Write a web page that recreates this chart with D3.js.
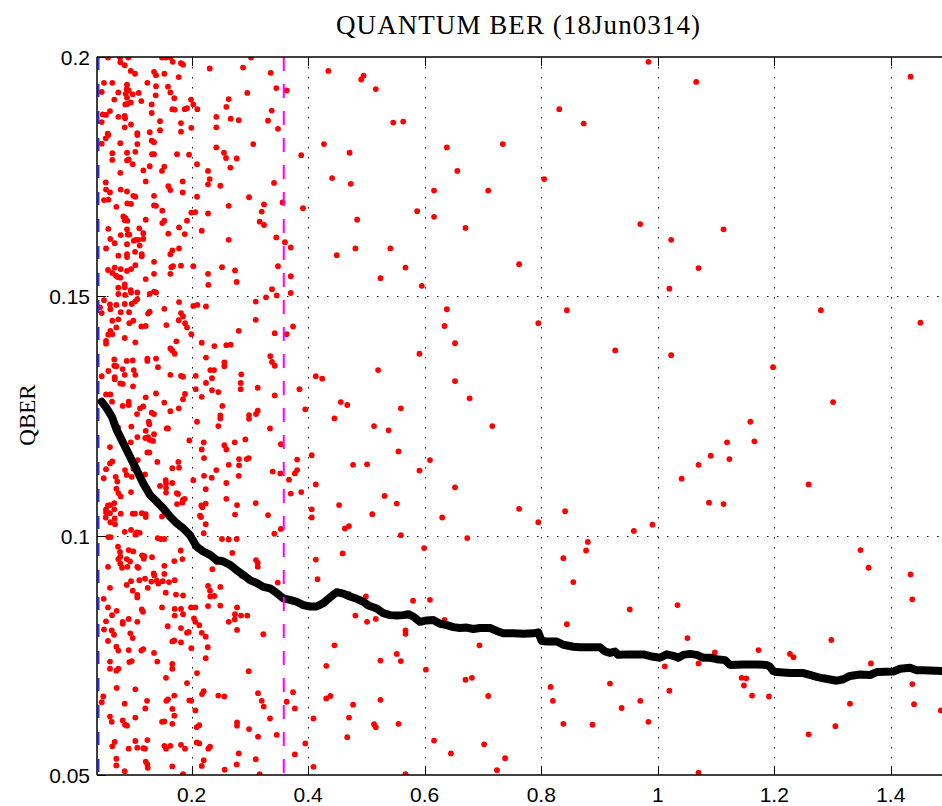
<!DOCTYPE html>
<html>
<head>
<meta charset="utf-8">
<script src="https://d3js.org/d3.v7.min.js"></script>
<style>
  body { margin: 0; background: #fff; }
  .tick-label { font-family: "Liberation Sans", Arial, sans-serif; font-size: 21px; fill: #000; }
</style>
</head>
<body>
<svg id="svg1" width="942" height="806"></svg>
<script>

// single-shot QBER values (x, qber)
var qberPoints = [
[0.4345,0.1971],[0.495,0.1961],[0.491,0.1953],[0.516,0.1933],[0.363,0.1930],[0.831,0.1891],[0.873,0.1861],[0.546,0.1863],[0.563,0.1865],[0.427,0.1818],[0.638,0.1811],[0.734,0.1818],[0.388,0.1795],[0.471,0.1800],[0.656,0.1762],[0.441,0.1747],[0.473,0.1735],[0.805,0.1745],[0.616,0.1721],[0.709,0.1721],[0.356,0.1696],[0.391,0.1684],[0.587,0.1678],[0.616,0.1666],[0.484,0.1660],[0.670,0.1643],[0.360,0.1613],[0.370,0.1602],[0.481,0.1600],[0.541,0.1600],[0.449,0.1586],[0.567,0.1560],[0.762,0.1567],[0.370,0.1542],[0.524,0.1538],[0.595,0.1522],[0.370,0.1507],[0.638,0.1473],[0.844,0.1471],[0.374,0.1437],[0.363,0.1421],[0.634,0.1438],[0.795,0.1444],[0.652,0.1402],[0.591,0.1380],[0.520,0.1346],[0.413,0.1333],[0.424,0.1328],[0.652,0.1323],[0.385,0.1306],[0.677,0.1287],[0.456,0.1279],[0.467,0.1273],[0.395,0.1264],[0.559,0.1266],
[0.984,0.1990],[1.066,0.1948],[1.434,0.1959],[0.970,0.1651],[1.113,0.1640],[1.023,0.1618],[1.070,0.1559],[1.020,0.1516],[1.280,0.1471],[1.451,0.1445],[0.927,0.1387],[1.023,0.1377],[1.198,0.1352],[1.301,0.1279],
[0.445,0.1245],[0.513,0.1229],[0.538,0.1220],[0.716,0.1229],[0.353,0.1191],[0.406,0.1168],[0.381,0.1159],[0.555,0.1176],[0.477,0.1148],[0.501,0.1149],[0.609,0.1158],[0.381,0.1137],[0.377,0.1130],[0.367,0.1117],[0.591,0.1136],[0.413,0.1107],[0.652,0.1101],[0.370,0.1088],[0.388,0.1091],[0.531,0.1083],[0.453,0.1064],[0.552,0.1067],[0.406,0.1055],[0.406,0.1038],[0.510,0.1045],[0.630,0.1038],[0.762,0.1056],[0.841,0.1051],[0.795,0.1028],[0.353,0.1014],[0.463,0.1015],[0.470,0.1020],[0.559,0.1001],[0.673,0.0995],[0.880,0.0987],[0.877,0.0969],[0.599,0.0974],[0.838,0.0953],[0.459,0.0963],[0.413,0.0950],[0.416,0.0909],[0.855,0.0903],[0.499,0.0873],[0.580,0.0864],[0.609,0.0866],[0.470,0.0878],[0.481,0.0833],[0.501,0.0820],[0.516,0.0826],[0.634,0.0824],[0.567,0.0802],[0.567,0.0795],[0.844,0.0815],[0.445,0.0771],[0.694,0.0771],[0.552,0.0753],[0.559,0.0738],[0.524,0.0739],[0.431,0.0728],[0.602,0.0720],[0.670,0.0699],[0.681,0.0703],[0.816,0.0684],[0.374,0.0673],[0.363,0.0653],[0.431,0.0660],[0.438,0.0665],[0.524,0.0657],[0.709,0.0665],[0.820,0.0655],[0.377,0.0639],[0.477,0.0647],[0.409,0.0618],[0.470,0.0620],[0.513,0.0606],[0.516,0.0600],[0.555,0.0607],[0.838,0.0607],[0.888,0.0605],[0.467,0.0579],[0.395,0.0566],[0.616,0.0572],[0.702,0.0564],[0.377,0.0543],[0.645,0.0545],[0.738,0.0535],[0.409,0.0517],[0.724,0.0510],[0.567,0.0502],[0.918,0.0691],
[1.159,0.1238],[1.119,0.1195],[1.166,0.1197],[1.091,0.1167],[1.123,0.1160],[1.070,0.1148],[1.041,0.1119],[1.259,0.1107],[1.088,0.1069],[1.113,0.1066],[0.991,0.1023],[0.959,0.1010],[1.348,0.0970],[1.362,0.0933],[1.434,0.0919],[1.437,0.0867],[0.952,0.0846],[1.034,0.0855],[1.051,0.0786],[1.298,0.0782],[1.173,0.0761],[1.098,0.0756],[1.227,0.0753],[1.233,0.0746],[1.012,0.0727],[1.070,0.0733],[1.366,0.0733],[1.144,0.0703],[1.152,0.0702],[1.148,0.0687],[1.020,0.0676],[1.437,0.0690],[1.162,0.0666],[1.191,0.0664],[0.970,0.0655],[0.938,0.0640],[1.330,0.0649],[1.440,0.0648],[1.486,0.0635],[0.984,0.0611],[1.305,0.0602],[1.259,0.0585],[1.070,0.0505],
[0.0563,0.1999],[0.0769,0.1999],[0.0912,0.1999],[0.149,0.1999],[0.1559,0.1999],[0.1633,0.1999],[0.3018,0.1999],[0.0774,0.1989],[0.085,0.1983],[0.1674,0.1990],[0.1816,0.1987],[0.1851,0.1984],[0.2309,0.1976],[0.2881,0.1978],[0.0953,0.1971],[0.1027,0.1965],[0.1353,0.1969],[0.1387,0.1962],[0.153,0.1965],[0.1777,0.1958],[0.3356,0.1967],[0.0494,0.1946],[0.0637,0.1946],[0.0889,0.1942],[0.1238,0.1946],[0.1387,0.1939],[0.1593,0.1938],[0.0455,0.1927],[0.074,0.1926],[0.0884,0.1933],[0.0918,0.1930],[0.0867,0.1923],[0.0987,0.1922],[0.109,0.1925],[0.1382,0.1920],[0.1633,0.1926],[0.3452,0.1935],[0.2954,0.1925],[0.0671,0.1911],[0.0889,0.1915],[0.1135,0.1908],[0.1701,0.1914],[0.1988,0.1911],[0.2635,0.1912],[0.086,0.1901],[0.0894,0.1902],[0.0953,0.1905],[0.1313,0.1901],[0.2027,0.1901],[0.2594,0.1896],[0.3373,0.1888],[0.1667,0.1891],[0.1708,0.1890],[0.188,0.1891],[0.1919,0.1893],[0.2096,0.1891],[0.0472,0.1880],[0.0529,0.1879],[0.0597,0.1887],[0.0455,0.1864],[0.074,0.1875],[0.085,0.1877],[0.0855,0.1872],[0.1313,0.1883],[0.1456,0.1866],[0.2422,0.1875],[0.2669,0.1871],[0.2807,0.1868],[0.331,0.1867],[0.0958,0.1859],[0.085,0.1853],[0.1816,0.1862],[0.1993,0.1852],[0.2422,0.1853],[0.1456,0.1847],[0.1816,0.1844],[0.3481,0.1850],[0.0558,0.1840],[0.0568,0.1837],[0.0524,0.1830],[0.1066,0.1841],[0.1066,0.1837],[0.1279,0.1843],[0.1313,0.1825],[0.1353,0.1822],[0.0455,0.1819],[0.0774,0.1820],[0.1066,0.1818],[0.3057,0.1818],[0.0637,0.1799],[0.0889,0.1800],[0.1032,0.1802],[0.1318,0.1797],[0.1353,0.1797],[0.1748,0.1797],[0.1954,0.1796],[0.2422,0.1811],[0.2554,0.1800],[0.2589,0.1789],[0.2772,0.1788],[0.0637,0.1785],[0.0889,0.1784],[0.0918,0.1786],[0.0987,0.1776],[0.1279,0.1772],[0.153,0.1771],[0.149,0.1762],[0.2091,0.1776],[0.2663,0.1769],[0.0774,0.1758],[0.1169,0.1763],[0.228,0.1762],[0.2309,0.1745],[0.228,0.1734],[0.2491,0.1731],[0.3413,0.1737],[0.121,0.1740],[0.1845,0.1740],[0.0524,0.1738],[0.0529,0.1723],[0.0597,0.1717],[0.0781,0.1723],[0.0889,0.1719],[0.1598,0.1730],[0.1633,0.1722],[0.1845,0.1717],[0.0997,0.1710],[0.1032,0.1708],[0.0494,0.1701],[0.0568,0.1702],[0.0706,0.1687],[0.0894,0.1694],[0.0958,0.1693],[0.1353,0.1710],[0.1353,0.1690],[0.1387,0.1689],[0.2091,0.1708],[0.2984,0.1707],[0.2635,0.1689],[0.3241,0.1692],[0.0826,0.1667],[0.086,0.1664],[0.0894,0.1658],[0.085,0.1659],[0.121,0.1660],[0.1495,0.1679],[0.153,0.1658],[0.1495,0.1653],[0.1993,0.1675],[0.2062,0.1676],[0.228,0.1673],[0.3202,0.1677],[0.3167,0.1656],[0.3241,0.1649],[0.1919,0.1658],[0.0568,0.1641],[0.0889,0.1640],[0.110,0.1642],[0.0781,0.1628],[0.0901,0.1629],[0.0929,0.1629],[0.1169,0.1632],[0.1598,0.1631],[0.1782,0.1644],[0.188,0.1630],[0.2172,0.1637],[0.0603,0.1620],[0.0678,0.1611],[0.0889,0.1609],[0.1004,0.1616],[0.1039,0.1618],[0.1083,0.1618],[0.1169,0.1620],[0.1107,0.1606],[0.0529,0.1600],[0.074,0.1585],[0.0889,0.1588],[0.0889,0.1582],[0.1027,0.1593],[0.1142,0.1588],[0.1142,0.1584],[0.1353,0.1572],[0.1633,0.1588],[0.1667,0.1596],[0.1782,0.1600],[0.2635,0.1618],[0.3452,0.1623],[0.0563,0.1555],[0.0637,0.1549],[0.0678,0.1560],[0.070,0.1543],[0.0781,0.1557],[0.074,0.1540],[0.0774,0.1539],[0.0889,0.1553],[0.0958,0.1557],[0.1032,0.1565],[0.121,0.1536],[0.1353,0.1547],[0.1633,0.1547],[0.165,0.1561],[0.1679,0.1563],[0.1816,0.1564],[0.2027,0.1563],[0.228,0.1547],[0.2285,0.1524],[0.252,0.1561],[0.2772,0.1530],[0.2743,0.1554],[0.3481,0.1563],[0.074,0.1518],[0.085,0.1525],[0.085,0.1519],[0.0953,0.1513],[0.0958,0.1508],[0.1066,0.1508],[0.1279,0.1505],[0.1353,0.1510],[0.1387,0.1508],[0.074,0.1505],[0.0855,0.1503],[0.3378,0.1515],[0.3459,0.1502],[0.3275,0.1498],
[0.0494,0.1492],[0.0597,0.1483],[0.0706,0.1482],[0.085,0.1484],[0.097,0.1484],[0.1027,0.1489],[0.1066,0.1494],[0.0426,0.1477],[0.0603,0.1473],[0.1782,0.1488],[0.2027,0.1480],[0.2096,0.1482],[0.2245,0.1479],[0.3099,0.1489],[0.0455,0.1465],[0.0781,0.1467],[0.0924,0.1467],[0.125,0.1464],[0.1279,0.1468],[0.153,0.1474],[0.1816,0.1465],[0.1851,0.1458],[0.0637,0.1449],[0.074,0.1452],[0.0929,0.1444],[0.0997,0.1449],[0.1135,0.1437],[0.121,0.1438],[0.1564,0.1440],[0.1777,0.1450],[0.1885,0.1444],[0.1919,0.1435],[0.1993,0.1421],[0.3099,0.1451],[0.0603,0.1428],[0.0637,0.1421],[0.0568,0.1420],[0.0706,0.1435],[0.0529,0.1407],[0.0529,0.1401],[0.085,0.1413],[0.1032,0.1404],[0.1736,0.1406],[0.1633,0.1391],[0.1667,0.1387],[0.1708,0.1380],[0.2172,0.1403],[0.2388,0.1396],[0.2594,0.1398],[0.2669,0.1399],[0.2807,0.1428],[0.3425,0.1423],
[0.0455,0.1333],[0.0568,0.1344],[0.0671,0.1368],[0.0671,0.1355],[0.0706,0.1354],[0.0815,0.1348],[0.0884,0.1365],[0.0987,0.1366],[0.1004,0.1346],[0.085,0.1336],[0.0678,0.1331],[0.0678,0.1327],[0.1032,0.1336],[0.1238,0.1370],[0.1238,0.1365],[0.1387,0.1370],[0.1421,0.1352],[0.1633,0.1336],[0.1816,0.1334],[0.1851,0.1332],[0.2069,0.1334],[0.2245,0.1372],[0.2319,0.1346],[0.2383,0.1346],[0.2348,0.1329],[0.256,0.1362],[0.256,0.1354],[0.2851,0.1337],[0.3349,0.1375],[0.3378,0.1363],[0.3425,0.1355],[0.0774,0.1318],[0.0815,0.1317],[0.0992,0.1312],[0.0529,0.1295],[0.0603,0.1295],[0.0632,0.1280],[0.0918,0.1280],[0.0918,0.1273],[0.0815,0.1271],[0.121,0.1289],[0.1387,0.1297],[0.153,0.1278],[0.1885,0.1296],[0.1851,0.1285],[0.2069,0.1306],[0.2245,0.1319],[0.2348,0.1304],[0.2172,0.1290],[0.2457,0.1300],[0.2525,0.1271],[0.2841,0.1319],[0.2841,0.1306],[0.3133,0.1309],[0.3425,0.1293],[0.1112,0.1266],[0.1169,0.1270],[0.1061,0.1254],[0.1313,0.1257],[0.1353,0.1254],[0.1633,0.1260],[0.1777,0.1266],[0.2491,0.1251],[0.2984,0.1252],[0.3104,0.1254],[0.3133,0.1261],
[0.0735,0.1226],[0.0963,0.1228],[0.1262,0.1238],[0.1272,0.1233],[0.121,0.1219],[0.1353,0.1212],[0.1571,0.1224],[0.1593,0.1224],[0.2091,0.1238],[0.2491,0.1245],[0.2984,0.1244],[0.2457,0.1229],[0.3344,0.1224],[0.0597,0.1185],[0.0953,0.1195],[0.1066,0.1206],[0.1203,0.1204],[0.125,0.1206],[0.1279,0.1200],[0.1336,0.1198],[0.1959,0.1199],[0.2172,0.1180],[0.2206,0.1195],[0.256,0.1189],[0.2594,0.1180],[0.2738,0.1195],[0.292,0.1201],[0.1238,0.1174],[0.1272,0.1174],[0.1409,0.1154],[0.1667,0.1141],[0.1782,0.1142],[0.177,0.1154],[0.2211,0.1162],[0.2635,0.1148],[0.2812,0.1160],[0.2812,0.1147],[0.2944,0.1160],[0.2978,0.1162],[0.0597,0.1151],[0.0637,0.1155],[0.0529,0.1139],[0.0489,0.1120],[0.0855,0.1137],[0.0884,0.1127],[0.0997,0.1140],[0.097,0.1123],[0.1198,0.1128],[0.1073,0.1158],[0.0695,0.1123],[0.0723,0.1113],[0.0706,0.1098],[0.074,0.1089],[0.0781,0.1082],[0.0958,0.1091],[0.1456,0.1104],[0.1554,0.1116],[0.1559,0.1109],[0.1559,0.1100],[0.1667,0.1110],[0.1559,0.1090],[0.1742,0.1089],[0.1765,0.1087],[0.1851,0.1075],[0.188,0.1077],[0.2027,0.1116],[0.2211,0.1125],[0.2343,0.1121],[0.2422,0.1137],[0.2594,0.1110],[0.224,0.1097],[0.2807,0.1125],[0.339,0.1134],[0.3521,0.1130],[0.0563,0.1063],[0.0529,0.1055],[0.0603,0.1064],[0.0671,0.1068],[0.0529,0.1049],[0.0597,0.1047],[0.0671,0.1055],[0.0524,0.1038],[0.0603,0.1028],[0.0678,0.1036],[0.0683,0.1024],[0.0781,0.1046],[0.0987,0.1046],[0.1027,0.1046],[0.1142,0.1047],[0.121,0.1045],[0.121,0.1039],[0.149,0.1040],[0.1748,0.1066],[0.1839,0.1069],[0.2165,0.1063],[0.2182,0.1059],[0.224,0.1067],[0.2142,0.1042],[0.2159,0.1039],[0.224,0.1024],[0.2594,0.1077],[0.2778,0.1064],[0.2743,0.1044],[0.3099,0.1068],[0.331,0.1043],[0.3418,0.1004],[0.085,0.1008],[0.0958,0.1012],[0.1032,0.1002],[0.1056,0.1007],[0.1107,0.1006],[0.1416,0.0995],[0.1468,0.0993],[0.153,0.0993],[0.2206,0.1005],[0.252,0.0993],[0.2635,0.0992],[0.2772,0.0993],[0.0609,0.0997],[0.0568,0.0997],
[0.0735,0.0977],[0.0769,0.0966],[0.0774,0.0956],[0.074,0.0951],[0.0884,0.0951],[0.0941,0.0946],[0.0918,0.0970],[0.0997,0.0967],[0.1147,0.0959],[0.1176,0.0952],[0.1186,0.0957],[0.1318,0.0955],[0.1811,0.0969],[0.1839,0.0951],[0.1701,0.0947],[0.153,0.0937],[0.153,0.0920],[0.0774,0.0942],[0.0803,0.0933],[0.0894,0.0935],[0.1066,0.0935],[0.1083,0.0933],[0.0563,0.0935],[0.0597,0.0891],[0.0884,0.0897],[0.0987,0.0885],[0.0958,0.0905],[0.110,0.0907],[0.1066,0.0876],[0.1066,0.0871],[0.1198,0.0910],[0.1245,0.0891],[0.1348,0.0921],[0.1358,0.0917],[0.1306,0.0904],[0.1399,0.0906],[0.1427,0.0900],[0.1502,0.0905],[0.1554,0.0881],[0.161,0.0903],[0.1708,0.0907],[0.1851,0.0875],[0.173,0.0877],[0.2354,0.0930],[0.2429,0.0945],[0.2697,0.0964],[0.2858,0.0916],[0.3104,0.0949],[0.3133,0.0943],[0.3133,0.0935],[0.3476,0.0902],[0.228,0.0895],[0.2314,0.0885],[0.2319,0.0873],[0.2388,0.0874],[0.2491,0.0893],[0.228,0.0853],[0.2491,0.0854],[0.0489,0.0868],[0.0563,0.0850],[0.0712,0.0843],[0.0632,0.0834],[0.0529,0.0821],[0.0494,0.0804],[0.0627,0.0802],[0.0666,0.0793],[0.0563,0.0780],[0.0815,0.0820],[0.0815,0.0816],[0.0918,0.0826],[0.1066,0.0820],[0.0946,0.0796],[0.0987,0.0786],[0.1164,0.0841],[0.1142,0.0846],[0.149,0.0850],[0.1708,0.0847],[0.1708,0.0833],[0.1816,0.0847],[0.1851,0.0836],[0.1588,0.0811],[0.1667,0.0779],[0.1701,0.0781],[0.1816,0.0807],[0.1816,0.0777],[0.1919,0.0797],[0.1948,0.0799],[0.1988,0.0850],[0.2062,0.0850],[0.1993,0.0765],[0.2039,0.0827],[0.2062,0.0820],[0.213,0.0813],[0.2172,0.0797],[0.224,0.0789],[0.2275,0.0767],[0.2778,0.0850],[0.2743,0.0836],[0.2635,0.0820],[0.2738,0.0825],[0.2846,0.0833],[0.2954,0.0833],[0.2778,0.0803],[0.3229,0.0794],[0.224,0.0744],[0.0706,0.0768],[0.074,0.0760],[0.0918,0.0761],[0.1135,0.0760],[0.1169,0.0763],[0.1353,0.0755],[0.0929,0.0736],[0.097,0.0738],[0.1409,0.0737],[0.0597,0.0737],[0.0597,0.0722],[0.0706,0.0718],[0.074,0.0722],[0.1667,0.0732],[0.1667,0.0722],[0.1559,0.0703],[0.1919,0.0692],[0.2091,0.0713],[0.2978,0.0717],[0.0712,0.0682],[0.1032,0.0679],[0.0482,0.0664],[0.0455,0.0652],[0.085,0.0649],[0.1233,0.0655],[0.1203,0.0639],[0.1564,0.0655],[0.1593,0.0658],[0.1701,0.0666],[0.1667,0.0638],[0.1701,0.0624],[0.149,0.0611],[0.153,0.0612],[0.1667,0.0607],[0.1959,0.0656],[0.1993,0.0655],[0.2062,0.0635],[0.2206,0.0675],[0.2177,0.0669],[0.2457,0.0666],[0.256,0.0664],[0.3138,0.0671],[0.3202,0.0655],[0.3236,0.0643],[0.3344,0.0618],[0.0597,0.0622],[0.0627,0.0611],[0.0815,0.0614],[0.0855,0.0605],[0.0889,0.0603],[0.1032,0.0620],[0.2086,0.0600],[0.213,0.0604],[0.2778,0.0610],[0.2778,0.0603],[0.2984,0.0596],[0.3138,0.0580],[0.3459,0.0584],[0.0678,0.0569],[0.0637,0.0560],[0.0918,0.0555],[0.1032,0.0571],[0.1066,0.0557],[0.1169,0.0556],[0.1198,0.0555],[0.1238,0.0573],[0.153,0.0561],[0.1559,0.0555],[0.1633,0.0561],[0.1816,0.0563],[0.1885,0.0555],[0.2086,0.0568],[0.213,0.0566],[0.2285,0.0555],[0.2314,0.0559],[0.2206,0.0531],[0.2172,0.0519],[0.2566,0.0511],[0.2772,0.0522],[0.2807,0.0545],[0.3099,0.0533],[0.3167,0.0502],[0.0706,0.0534],[0.0706,0.0520],[0.085,0.0508],[0.121,0.0528],[0.1238,0.0522],[0.1245,0.0515],[0.1667,0.0518],[0.1851,0.0502]
];

// running average (thick black curve)
var avgX = [0.0455,0.0541,0.0627,0.0712,0.0826,0.0941,0.1056,0.1169,0.1284,0.1399,
  0.1512,0.1627,0.1742,0.1856,0.1971,0.2086,0.2199,0.2314,0.2429,0.2542,
  0.2657,0.2772,0.2886,0.3001,0.3116,0.3229,0.3344,0.3459,0.3572,0.3687,
  0.3802,0.3916,0.4031,0.4146,0.4259,0.4374,0.4489,0.4602,0.4717,0.4833,
  0.4946,0.5032,0.5176,0.5289,0.5404,0.5519,0.5632,0.5718,0.5804,0.5919,
  0.6034,0.6147,0.6263,0.6378,0.6491,0.6606,0.6721,0.6834,0.6949,0.7121,
  0.7236,0.7349,0.7521,0.7693,0.7864,0.795,0.8008,0.8094,0.8266,0.8379,
  0.8551,0.8666,0.8837,0.9009,0.9095,0.9181,0.9267,0.9323,0.9524,0.9753,
  0.9924,1.0039,1.0154,1.0267,1.0353,1.0439,1.0554,1.0669,1.0783,1.0898,
  1.1013,1.1155,1.1241,1.1469,1.1699,1.1871,1.1928,1.1984,1.2043,1.2271,
  1.2499,1.2614,1.2729,1.2843,1.3073,1.3186,1.3301,1.3473,1.3644,1.3759,
  1.4044,1.4159,1.4331,1.4446,1.4559,1.488];
var avgY = [0.1280,0.1266,0.1249,0.1221,0.1193,0.1165,0.1137,0.1109,0.1085,0.1071,
  0.1057,0.1040,0.1026,0.1015,0.1001,0.0977,0.0967,0.0960,0.0949,0.0946,
  0.0939,0.0928,0.0918,0.0907,0.0901,0.0893,0.0890,0.0880,0.0869,0.0866,
  0.0862,0.0855,0.0852,0.0852,0.0859,0.0871,0.0882,0.0879,0.0873,0.0868,
  0.0862,0.0854,0.0848,0.0838,0.0834,0.0833,0.0834,0.0836,0.0831,0.0820,
  0.0823,0.0824,0.0816,0.0813,0.0809,0.0807,0.0808,0.0805,0.0807,0.0807,
  0.0801,0.0796,0.0796,0.0795,0.0796,0.0798,0.0780,0.0779,0.0779,0.0772,
  0.0768,0.0767,0.0767,0.0767,0.0758,0.0755,0.0758,0.0751,0.0752,0.0752,
  0.0747,0.0745,0.0752,0.0749,0.0745,0.0751,0.0753,0.0751,0.0745,0.0745,
  0.0742,0.0740,0.0730,0.0731,0.0731,0.0730,0.0726,0.0717,0.0715,0.0713,
  0.0713,0.0709,0.0705,0.0702,0.0697,0.0700,0.0707,0.0710,0.0709,0.0715,
  0.0716,0.0722,0.0724,0.0719,0.0719,0.0717];

var xTicks = [0.2, 0.4, 0.6, 0.8, 1, 1.2, 1.4];
var xTickLabels = ["0.2", "0.4", "0.6", "0.8", "1", "1.2", "1.4"];
var yTicks = [0.05, 0.1, 0.15, 0.2];
var yTickLabels = ["0.05", "0.1", "0.15", "0.2"];
var blueMarker = 0.04;      // start marker
var magentaMarker = 0.358;  // cut marker
var titleText = "QUANTUM BER (18Jun0314)";
var yLabelText = "QBER";

var svg = d3.select("#svg1");
    width = +svg.attr("width");
    height = +svg.attr("height");
var plot = {left: 97, top: 57, right: 942, bottom: 775};

var x = d3.scaleLinear()
    .domain([0.0374, 1.488])
    .range([plot.left, plot.right]);

var y = d3.scaleLinear()
    .domain([0.05, 0.2])
    .range([plot.bottom, plot.top]);

svg.append("defs").append("clipPath")
    .attr("id", "plotclip")
  .append("rect")
    .attr("x", plot.left)
    .attr("y", plot.top)
    .attr("width", plot.right - plot.left)
    .attr("height", plot.bottom - plot.top);

// dotted grid
var grid = svg.append("g").attr("class", "grid");
grid.selectAll("line.gx")
  .data(xTicks)
  .enter().append("line")
    .attr("class", "gx")
    .attr("x1", function(d) { return Math.round(x(d)) + 0.5; })
    .attr("x2", function(d) { return Math.round(x(d)) + 0.5; })
    .attr("y1", plot.top)
    .attr("y2", plot.bottom)
    .attr("stroke", "#000")
    .attr("stroke-width", 1)
    .attr("stroke-dasharray", "1.5,8.5");
grid.selectAll("line.gy")
  .data(yTicks.slice(1, 3))
  .enter().append("line")
    .attr("class", "gy")
    .attr("x1", plot.left)
    .attr("x2", plot.right)
    .attr("y1", function(d) { return Math.round(y(d)) + 0.5; })
    .attr("y2", function(d) { return Math.round(y(d)) + 0.5; })
    .attr("stroke", "#000")
    .attr("stroke-width", 1)
    .attr("stroke-dasharray", "1.5,8.5");

var inner = svg.append("g").attr("clip-path", "url(#plotclip)");

inner.selectAll("circle")
  .data(qberPoints)
  .enter().append("circle")
    .attr("cx", function(d) { return x(d[0]); })
    .attr("cy", function(d) { return y(d[1]); })
    .attr("r", 2.9)
    .attr("fill", "#ff0000");

var avg = d3.zip(avgX, avgY);
var line = d3.line()
    .x(function(d) { return x(d[0]); })
    .y(function(d) { return y(d[1]); });

inner.append("path")
    .datum(avg)
    .attr("d", line)
    .attr("fill", "none")
    .attr("stroke", "#000")
    .attr("stroke-width", 8)
    .attr("stroke-linejoin", "round")
    .attr("stroke-linecap", "round");

// vertical markers
inner.append("line")
    .attr("x1", x(blueMarker)).attr("x2", x(blueMarker))
    .attr("y1", plot.top).attr("y2", plot.bottom)
    .attr("stroke", "#3333ff")
    .attr("stroke-width", 2)
    .attr("stroke-dasharray", "13,14");
inner.append("line")
    .attr("x1", x(magentaMarker)).attr("x2", x(magentaMarker))
    .attr("y1", plot.top).attr("y2", plot.bottom)
    .attr("stroke", "#ff00ff")
    .attr("stroke-width", 2)
    .attr("stroke-dasharray", "14,13");

// frame + ticks
var frame = svg.append("g").attr("stroke", "#000").attr("fill", "none");
frame.append("line").attr("x1", plot.left).attr("x2", plot.right).attr("y1", plot.top).attr("y2", plot.top).attr("stroke-width", 1.5);
frame.append("line").attr("x1", plot.left).attr("x2", plot.right).attr("y1", plot.bottom).attr("y2", plot.bottom).attr("stroke-width", 1.5);
frame.append("line").attr("x1", plot.left).attr("x2", plot.left).attr("y1", plot.top).attr("y2", plot.bottom).attr("stroke-width", 1.5);

frame.selectAll("line.tb")
  .data(xTicks)
  .enter().append("line")
    .attr("class", "tb")
    .attr("x1", function(d) { return Math.round(x(d)) + 0.5; })
    .attr("x2", function(d) { return Math.round(x(d)) + 0.5; })
    .attr("y1", plot.bottom)
    .attr("y2", plot.bottom - 9);
frame.selectAll("line.tt")
  .data(xTicks)
  .enter().append("line")
    .attr("class", "tt")
    .attr("x1", function(d) { return Math.round(x(d)) + 0.5; })
    .attr("x2", function(d) { return Math.round(x(d)) + 0.5; })
    .attr("y1", plot.top)
    .attr("y2", plot.top + 9);
frame.selectAll("line.tl")
  .data(yTicks)
  .enter().append("line")
    .attr("class", "tl")
    .attr("x1", plot.left)
    .attr("x2", plot.left + 9)
    .attr("y1", function(d) { return Math.round(y(d)) + 0.5; })
    .attr("y2", function(d) { return Math.round(y(d)) + 0.5; });

svg.selectAll("text.xl")
  .data(xTicks)
  .enter().append("text")
    .attr("class", "tick-label")
    .attr("x", function(d) { return x(d); })
    .attr("y", 802)
    .attr("text-anchor", "middle")
    .text(function(d, i) { return xTickLabels[i]; });

svg.selectAll("text.yl")
  .data(yTicks)
  .enter().append("text")
    .attr("class", "tick-label")
    .attr("x", 90)
    .attr("y", function(d) { return y(d) + 8; })
    .attr("text-anchor", "end")
    .text(function(d, i) { return yTickLabels[i]; });

svg.append("text")
    .attr("x", 518)
    .attr("y", 34)
    .attr("text-anchor", "middle")
    .attr("font-family", "'Liberation Serif', 'Times New Roman', serif")
    .attr("font-size", 27)
    .attr("textLength", 364)
    .attr("lengthAdjust", "spacing")
    .text(titleText);

svg.append("text")
    .attr("transform", "translate(35,415) rotate(-90)")
    .attr("text-anchor", "middle")
    .attr("font-family", "'Liberation Serif', 'Times New Roman', serif")
    .attr("font-size", 23)
    .text(yLabelText);

</script>
</body>
</html>
